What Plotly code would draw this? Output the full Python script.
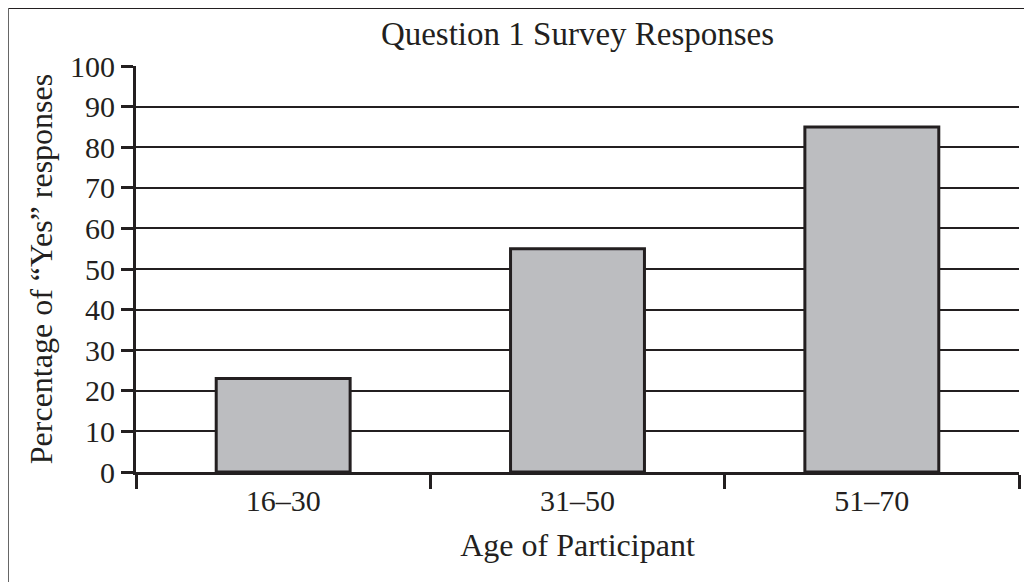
import plotly.graph_objects as go

categories = ["16–30", "31–50", "51–70"]
values = [23, 55, 85]
y_ticks = [0, 10, 20, 30, 40, 50, 60, 70, 80, 90, 100]

INK = "#231f20"
FONT = "Liberation Serif"
FS = 30

# page body has an 8px margin, so the figure is laid out 8px smaller
W, H = 1024, 574
L, R, T, B = 128, 13, 58, 110
PW, PH = W - L - R, H - T - B

fig = go.Figure()
fig.add_trace(go.Bar(
    x=categories, y=values, width=0.455,
    marker=dict(color="#bcbdc0", line=dict(color=INK, width=3)),
    hoverinfo="skip",
))

fig.update_layout(
    width=W, height=H,
    margin=dict(l=L, r=R, t=T, b=B),
    paper_bgcolor="white", plot_bgcolor="white",
    showlegend=False,
    font=dict(family=FONT, color=INK, size=FS),
    title=dict(text="Question 1 Survey Responses", x=0.5, xref="paper",
               y=1 - 25/H, yanchor="middle",
               font=dict(family=FONT, size=33, color=INK)),
    shapes=[
        dict(type="line", xref="paper", yref="paper",
             x0=-L/PW, x1=1.1, y0=1 + T/PH, y1=1 + T/PH,
             line=dict(color=INK, width=2)),
        dict(type="line", xref="paper", yref="paper",
             x0=-L/PW, x1=-L/PW, y0=1 + T/PH, y1=-0.4,
             line=dict(color="#666666", width=2)),
    ],
)

fig.update_xaxes(
    type="category", range=[-0.5, 2.5],
    tickson="boundaries", ticks="outside", ticklen=14, tickwidth=3, tickcolor=INK,
    showline=True, linecolor=INK, linewidth=3,
    showgrid=False, zeroline=False,
    tickfont=dict(family=FONT, size=FS, color=INK),
    title=dict(text="Age of Participant", standoff=18,
               font=dict(family=FONT, size=32, color=INK)),
)
fig.update_yaxes(
    range=[0, 100], tickvals=y_ticks,
    ticks="outside", ticklen=12, tickwidth=3, tickcolor=INK,
    showline=True, linecolor=INK, linewidth=3,
    showgrid=True, gridcolor=INK, gridwidth=1.5,
    zeroline=False,
    tickfont=dict(family=FONT, size=FS, color=INK),
    title=dict(text="Percentage of “Yes” responses", standoff=8,
               font=dict(family=FONT, size=32, color=INK)),
)

fig.write_html("out.html")
